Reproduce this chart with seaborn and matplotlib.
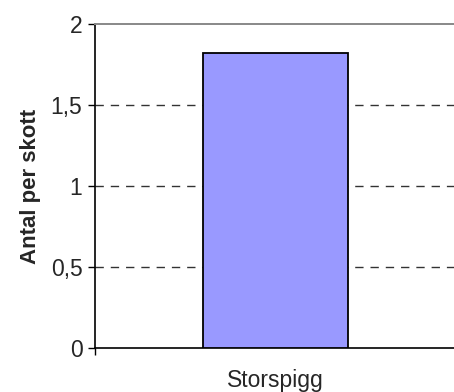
import matplotlib
matplotlib.use("Agg")
import matplotlib.pyplot as plt
import seaborn as sns
import pandas as pd

categories = ["Storspigg"]
values = [1.82]
yticks = [0, 0.5, 1, 1.5, 2]
ytick_labels = ["0", "0,5", "1", "1,5", "2"]

df = pd.DataFrame({"art": categories, "antal": values})

sns.set_style("white")
plt.rcParams['font.family'] = ['Liberation Sans', 'DejaVu Sans']

fig = plt.figure(figsize=(4.54, 3.92), dpi=100)
ax = fig.add_axes([0.209, 0.112, 0.797, 0.827])

sns.barplot(data=df, x="art", y="antal", color="#9999FF", width=0.4,
            edgecolor="black", linewidth=1.3, saturation=1, ax=ax, zorder=3)

ax.set_ylim(0, 2)
ax.set_xlim(-0.5, 0.5)
ax.set_yticks(yticks)
ax.set_yticklabels(ytick_labels, fontsize=16.5)
# streckade stödlinjer
for y in yticks[1:-1]:
    ax.axhline(y, color="#333333", lw=1.0, ls=(0, (6, 5)), zorder=1)

ax.set_xticks([-0.5, 0.5], minor=True)
ax.tick_params(axis="x", which="minor", length=5, width=1, color="black", direction="out", bottom=True)
ax.tick_params(axis="x", which="major", length=0, pad=15, labelsize=16.5)
ax.tick_params(axis="y", length=5, width=1, color="black", direction="out", left=True, pad=4)

ax.set_xlabel("")
ax.set_ylabel("Antal per skott", fontsize=16, fontweight="bold", labelpad=7)

for s in ["left", "bottom"]:
    ax.spines[s].set_color("black")
    ax.spines[s].set_linewidth(1.2)
ax.spines["top"].set_color("#888888")
ax.spines["top"].set_linewidth(1.4)
ax.spines["right"].set_visible(False)

fig.savefig("out.png", dpi=100)
